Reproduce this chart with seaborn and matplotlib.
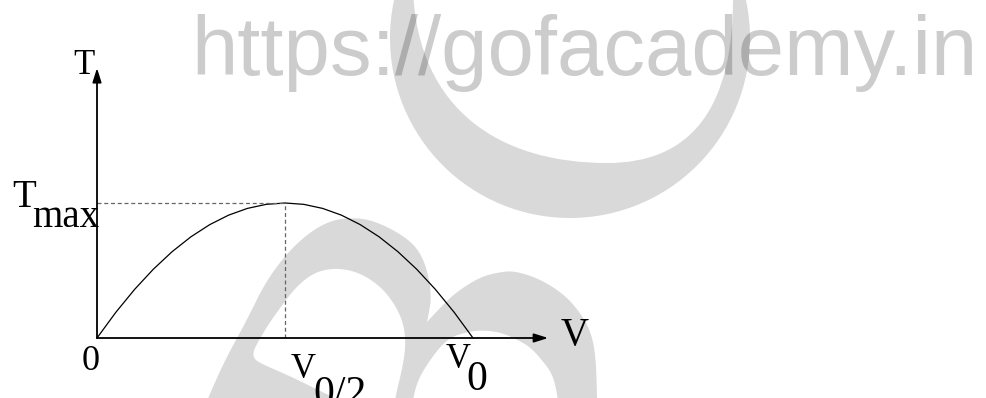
import matplotlib
matplotlib.use("Agg")
import matplotlib.pyplot as plt
import pandas as pd
import seaborn as sns
from matplotlib.patches import Circle, PathPatch, Polygon
from matplotlib.path import Path

# Torque-speed characteristic: T rises from 0, peaks at V0/2 and falls back to 0 at V0
speed = [0.0, 0.05, 0.10, 0.15, 0.20, 0.25, 0.30, 0.35, 0.40, 0.45, 0.50,
         0.55, 0.60, 0.65, 0.70, 0.75, 0.80, 0.85, 0.90, 0.95, 1.00]
torque = [0.00, 0.19, 0.36, 0.51, 0.64, 0.75, 0.84, 0.91, 0.96, 0.99, 1.00,
          0.99, 0.96, 0.91, 0.84, 0.75, 0.64, 0.51, 0.36, 0.19, 0.00]
t_max = 1.0
v_half = 0.5
v_zero = 1.0
axis_v_end = 1.2
axis_t_end = 2.0

df = pd.DataFrame({"V": speed, "T": torque})

sns.set_theme(style="white")
plt.rcParams["font.family"] = ["Liberation Serif", "DejaVu Serif"]

W, H, DPI = 987, 398, 100
fig = plt.figure(figsize=(W / DPI, H / DPI), dpi=DPI)
fig.patch.set_facecolor("white")


def chaikin(pts, rounds=3):
    """Round off the corners of an open polyline, keeping its end points."""
    for _ in range(rounds):
        out = [pts[0]]
        for (x1, y1), (x2, y2) in zip(pts[:-1], pts[1:]):
            out.append((0.75 * x1 + 0.25 * x2, 0.75 * y1 + 0.25 * y2))
            out.append((0.25 * x1 + 0.75 * x2, 0.25 * y1 + 0.75 * y2))
        out.append(pts[-1])
        pts = out
    return pts


# ---- background watermark (pixel coordinates) ----
wm = fig.add_axes([0, 0, 1, 1], zorder=0)
wm.set_xlim(0, W)
wm.set_ylim(H, 0)
wm.set_axis_off()

logo_grey = "#d9d9d9"
wm.add_patch(Circle((570, 38), 180, facecolor=logo_grey, edgecolor="none"))
inner = Path(
    [(413, -10), (418, 110), (500, 163), (607, 163),
     (690, 163), (735, 110), (733, -10), (413, -10)],
    [Path.MOVETO, Path.CURVE4, Path.CURVE4, Path.CURVE4,
     Path.CURVE4, Path.CURVE4, Path.CURVE4, Path.CLOSEPOLY])
wm.add_patch(PathPatch(inner, facecolor="white", edgecolor="none"))

arch_outer = [(200, 420), (208, 398), (225, 360), (248, 318), (265, 283),
              (287, 253), (310, 232), (330, 221), (347, 218), (368, 219),
              (392, 229), (413, 243), (424, 260), (430, 283), (431, 300),
              (429, 312), (427, 322)]
hump_outer = [(427, 322), (440, 308), (455, 293), (480, 277), (500, 272),
              (515, 271), (540, 279), (565, 295), (582, 315), (592, 335),
              (596, 360), (597, 398), (598, 420)]
hump_inner = [(559, 420), (558, 398), (553, 375), (542, 360), (530, 347),
              (518, 340), (500, 332), (478, 330), (460, 334), (450, 338),
              (440, 347), (428, 363), (418, 380), (413, 398), (411, 420)]
arch_inner = [(393, 420), (395, 398), (402, 370), (406, 345), (403, 320),
              (390, 297), (375, 282), (355, 271), (333, 268), (313, 273),
              (295, 288), (280, 308), (268, 325), (258, 342), (253, 352),
              (254, 359), (262, 364), (285, 374), (300, 381), (320, 391),
              (335, 398), (350, 420)]
swoosh = (chaikin(arch_outer) + chaikin(hump_outer)[1:]
          + chaikin(hump_inner) + chaikin(arch_inner))
wm.add_patch(Polygon(swoosh, closed=True, facecolor=logo_grey, edgecolor="none"))

wm.text(191, 75, "https://gofacademy.in", fontsize=60,
        family=["Liberation Sans", "DejaVu Sans"], color="black", alpha=0.2,
        ha="left", va="baseline")

# ---- characteristic curve ----
ax = fig.add_axes([0, 0, 1, 1], zorder=1)
ax.patch.set_alpha(0)
x_scale, y_scale = 376.0, 135.0
x0_px, y0_px = 97.0, 60.0
ax.set_xlim(-x0_px / x_scale, (W - x0_px) / x_scale)
ax.set_ylim(-y0_px / y_scale, (H - y0_px) / y_scale)
ax.set_axis_off()

sns.lineplot(data=df, x="V", y="T", ax=ax, color="black", linewidth=0.9,
             sort=False, estimator=None)

dash = (0, (3.2, 2.2))
ax.plot([0, v_half], [t_max, t_max], color="#666666", linewidth=0.9, linestyle=dash)
ax.plot([v_half, v_half], [0, t_max], color="#666666", linewidth=0.9, linestyle=dash)

arrow = dict(arrowstyle="-|>,head_length=0.7,head_width=0.22", color="black",
             linewidth=1.3, shrinkA=0, shrinkB=0)
ax.annotate("", xy=(axis_v_end, 0), xytext=(0, 0), arrowprops=arrow)
ax.annotate("", xy=(0, axis_t_end), xytext=(0, 0), arrowprops=arrow)


def label(text, xy, dx, dy, size, ha="left"):
    ax.annotate(text, xy=xy, xytext=(dx, dy), textcoords="offset pixels",
                ha=ha, va="baseline", fontsize=size, color="black")


label("0", (0, 0), -15, -32, 26)
label("T", (0, axis_t_end), -2, -6, 25, ha="right")
label("T", (0, t_max), -85, -4, 28)
label("max", (0, t_max), -65, -24, 28)
label("V", (axis_v_end, 0), 12, -7, 28)
label("V", (v_zero, 0), -27, -30, 25)
label("0", (v_zero, 0), -7, -52, 30)
label("V", (v_half, 0), 6, -40, 25)
label("0/2", (v_half, 0), 28, -67, 30)

fig.savefig("out.png", dpi=DPI, facecolor="white")
